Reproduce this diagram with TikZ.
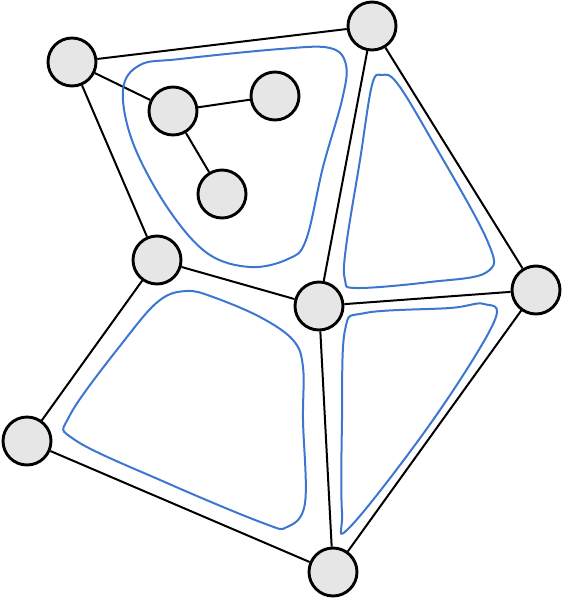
\documentclass[tikz,border=0pt]{standalone}
\usetikzlibrary{shapes,backgrounds}

\definecolor{ringblue}{RGB}{60,118,208}
\definecolor{vertexgray}{RGB}{230,230,230}

\begin{document}
\begin{tikzpicture}[
x=1pt, y=-1pt,
vertex/.style={circle, draw=black, line width=2.9pt, fill=vertexgray, minimum size=48pt, inner sep=0pt},
link/.style={draw=black, line width=2pt},
facering/.style={draw=ringblue, line width=2pt},
]
\useasboundingbox (0,0) rectangle (562,600);

% faces
\draw[facering] plot[smooth cycle, tension=0.6] coordinates {
  (123,90) (140,65) (180,59) (280,49) (330,48) (346,65) (342,100) (323,167) (306,240)
  (288,259) (250,267) (207,253) (167,207) (133,143)};
\draw[facering] plot[smooth cycle, tension=0.6] coordinates {
  (372,85) (382,75) (397,83) (430,137) (487,240) (487,272) (430,282)
  (357,288) (345,280) (346,247) (360,160)};
\draw[facering] plot[smooth cycle, tension=0.6] coordinates {
  (160,300) (187,291) (213,297) (260,317) (293,340) (303,367) (303,420) (305,503) (287,527)
  (263,523) (167,483) (75,440) (70,415) (127,337)};
\draw[facering] plot[smooth cycle, tension=0.6] coordinates {
  (345,330) (365,313) (450,308) (484,304) (494,322) (433,420) (350,527) (342,512) (342,420)};

% vertices
\node[vertex] (a) at (72,62) {};
\node[vertex] (b) at (372,26) {};
\node[vertex] (c) at (173,111) {};
\node[vertex] (d) at (275,96) {};
\node[vertex] (e) at (222,194) {};
\node[vertex] (f) at (157,260) {};
\node[vertex] (g) at (319,306) {};
\node[vertex] (h) at (536,290) {};
\node[vertex] (i) at (27,441) {};
\node[vertex] (j) at (333,572) {};

% edges
\begin{scope}[on background layer]
\draw[link] (a) -- (b);
\draw[link] (a) -- (c);
\draw[link] (a) -- (f);
\draw[link] (c) -- (d);
\draw[link] (c) -- (e);
\draw[link] (b) -- (g);
\draw[link] (b) -- (h);
\draw[link] (f) -- (g);
\draw[link] (g) -- (h);
\draw[link] (f) -- (i);
\draw[link] (g) -- (j);
\draw[link] (i) -- (j);
\draw[link] (h) -- (j);
\end{scope}

\end{tikzpicture}
\end{document}
